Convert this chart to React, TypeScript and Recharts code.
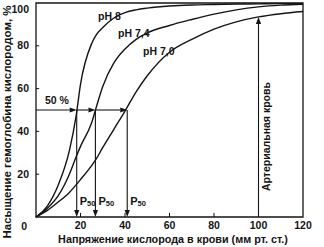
import {
  LineChart,
  Line,
  XAxis,
  YAxis,
  ReferenceLine,
  ReferenceDot,
  ReferenceArea,
} from "recharts";

// oxygen pressure, mm Hg
const pressure = [0, 5, 10, 15, 18, 20, 25, 27, 30, 35, 40, 45, 50, 60, 70, 80, 90, 100, 110, 120];
// saturation, %
const satPh80 = [0, 5, 15, 31, 47, 62, 81, 85, 88.5, 93, 95.5, 96.8, 97.6, 98.6, 99.1, 99.3, 99.5, 99.6, 99.7, 99.7];
const satPh74 = [0, 4, 10, 20, 28, 33, 44, 51, 61, 72, 78.5, 83, 86, 89.5, 92.3, 94.8, 96.8, 98.2, 99, 99.4];
const satPh70 = [0, 3, 7, 11.5, 15, 17.5, 24, 27, 32.5, 41, 49.5, 58.5, 66, 77, 83, 87.8, 91.2, 93.5, 95, 96];

const p50Values = [18.3, 26.7, 41];
const xTicks = [20, 40, 60, 80, 100, 120];
const yTicks = [0, 20, 40, 60, 80, 100];
const arterialPressure = 100;

const rows = pressure.map((p, i) => ({
  p,
  ph80: satPh80[i],
  ph74: satPh74[i],
  ph70: satPh70[i],
}));

const INK = "#141414";
const FONT = "'Liberation Sans', Arial, sans-serif";

function Arrow(props: any) {
  const { x1, y1, x2, y2 } = props;
  const dx = x2 - x1;
  const dy = y2 - y1;
  const len = Math.hypot(dx, dy) || 1;
  const ux = dx / len;
  const uy = dy / len;
  const L = 7;
  const W = 2.6;
  const bx = x2 - ux * L;
  const by = y2 - uy * L;
  const pts = `${x2},${y2} ${bx - uy * W},${by + ux * W} ${bx + uy * W},${by - ux * W}`;
  return (
    <g>
      <line x1={x1} y1={y1} x2={bx} y2={by} stroke={INK} strokeWidth={1.1} />
      <polygon points={pts} fill={INK} />
    </g>
  );
}

const note = (text: string, size = 10.5) => (pp: any) => (
  <text x={pp.cx} y={pp.cy} fontFamily={FONT} fontWeight="bold" fontSize={size} fill={INK}>
    {text}
  </text>
);

const p50Label = (pp: any) => (
  <text x={pp.cx + 3} y={pp.cy} fontFamily={FONT} fontWeight="bold" fontSize={11} fill={INK}>
    P
    <tspan fontSize={7.5} dy={1}>50</tspan>
  </text>
);

const arterialLabel = (pp: any) => (
  <text
    x={pp.cx + 8}
    y={pp.cy}
    transform={`rotate(-90, ${pp.cx + 8}, ${pp.cy})`}
    textAnchor="middle"
    dominantBaseline="central"
    fontFamily={FONT}
    fontWeight="bold"
    fontSize={10.5}
    fill={INK}
  >
    Артериальная кровь
  </text>
);

function YTick({ x, y, payload }: any) {
  const zero = payload.value === 0;
  return (
    <text
      x={zero ? x - 2 : x}
      y={zero ? y + 9 : y}
      dy="0.35em"
      textAnchor="end"
      fontFamily={FONT}
      fontWeight="bold"
      fontSize={10.5}
      fill={INK}
    >
      {payload.value}
    </text>
  );
}

function XTick({ x, y, payload }: any) {
  return (
    <text x={x} y={y} dy="0.71em" textAnchor="middle" fontFamily={FONT} fontWeight="bold" fontSize={10.5} fill={INK}>
      {payload.value}
    </text>
  );
}

export default function App() {
  const arterialSat = satPh70[pressure.indexOf(arterialPressure)];
  const stops = [0, ...p50Values];

  return (
    <div style={{ position: "relative", width: 324, height: 247, background: "#fff" }}>
      <style>{"body{margin:0}"}</style>
      <LineChart width={324} height={247} data={rows} margin={{ top: 3, right: 21, left: 0, bottom: 0 }}>
        <XAxis
          dataKey="p"
          type="number"
          domain={[0, 120]}
          ticks={xTicks}
          axisLine={false}
          tickLine={false}
          tickSize={0}
          tickMargin={5}
          height={30}
          tick={<XTick />}
        />
        <YAxis
          type="number"
          domain={[0, 100]}
          ticks={yTicks}
          axisLine={false}
          tickLine={false}
          tickSize={0}
          tickMargin={7}
          width={36}
          tick={<YTick />}
        />
        <ReferenceArea x1={0} x2={120} y1={0} y2={100} fill="none" stroke={INK} strokeWidth={1.3} />
        {yTicks.slice(1, -1).map((v) => (
          <ReferenceLine key={`yt${v}`} segment={[{ x: 0, y: v }, { x: 1.4, y: v }]} stroke={INK} strokeWidth={1} />
        ))}
        {xTicks.slice(0, -1).map((v) => (
          <ReferenceLine key={`xt${v}`} segment={[{ x: v, y: 0 }, { x: v, y: 1.9 }]} stroke={INK} strokeWidth={1} />
        ))}

        <Line type="monotone" dataKey="ph80" stroke={INK} strokeWidth={1.4} dot={false} isAnimationActive={false} />
        <Line type="monotone" dataKey="ph74" stroke={INK} strokeWidth={1.4} dot={false} isAnimationActive={false} />
        <Line type="monotone" dataKey="ph70" stroke={INK} strokeWidth={1.4} dot={false} isAnimationActive={false} />

        {p50Values.map((v, i) => (
          <ReferenceLine key={`h${v}`} segment={[{ x: stops[i], y: 50 }, { x: v, y: 50 }]} shape={Arrow} />
        ))}
        {p50Values.map((v) => (
          <ReferenceLine key={`v${v}`} segment={[{ x: v, y: 50 }, { x: v, y: 0 }]} shape={Arrow} />
        ))}
        <ReferenceLine
          segment={[{ x: arterialPressure, y: 0 }, { x: arterialPressure, y: arterialSat }]}
          shape={Arrow}
        />

        {p50Values.map((v) => (
          <ReferenceDot key={`p${v}`} x={v} y={5.6} r={0} shape={p50Label} />
        ))}
        <ReferenceDot x={4} y={52.8} r={0} shape={note("50 %")} />
        <ReferenceDot x={27.9} y={92} r={0} shape={note("pH 8")} />
        <ReferenceDot x={36.9} y={84.3} r={0} shape={note("pH 7,4")} />
        <ReferenceDot x={48.1} y={75.6} r={0} shape={note("pH 7,0")} />
        <ReferenceDot x={arterialPressure} y={37.6} r={0} shape={arterialLabel} />
      </LineChart>

      <div
        style={{
          position: "absolute",
          left: 7,
          top: 122,
          transform: "translate(-50%, -50%) rotate(-90deg)",
          whiteSpace: "nowrap",
          fontFamily: FONT,
          fontWeight: "bold",
          fontSize: 11.5,
          color: INK,
        }}
      >
        Насыщение гемоглобина кислородом, %
      </div>
      <div
        style={{
          position: "absolute",
          left: 173,
          top: 238.5,
          transform: "translate(-50%, -50%)",
          whiteSpace: "nowrap",
          fontFamily: FONT,
          fontWeight: "bold",
          fontSize: 10.8,
          color: INK,
        }}
      >
        Напряжение кислорода в крови (мм рт. ст.)
      </div>
    </div>
  );
}
